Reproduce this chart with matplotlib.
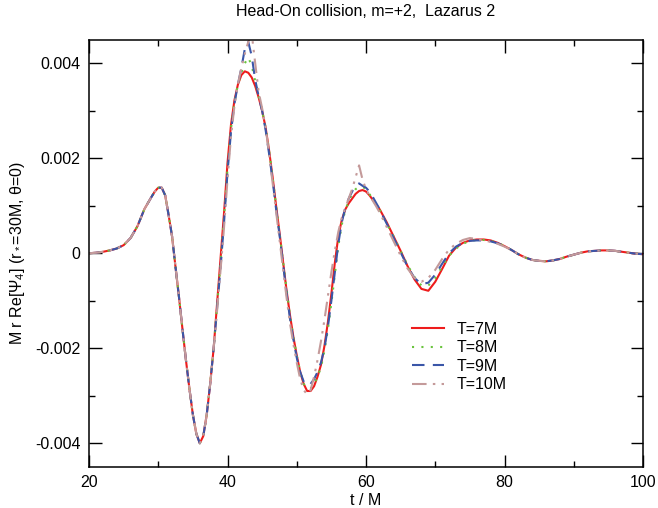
import matplotlib
matplotlib.use("Agg")
import matplotlib.pyplot as plt
from matplotlib.ticker import FixedLocator, MultipleLocator

plt.rcParams['font.family'] = ['Liberation Sans', 'DejaVu Sans']
plt.rcParams['mathtext.fontset'] = 'custom'
plt.rcParams['mathtext.rm'] = 'Liberation Sans'
plt.rcParams['mathtext.it'] = 'Liberation Sans:italic'

# time grid (t / M)
t = [20, 21, 22, 23, 24, 25, 26, 27, 28, 29,
     29.5, 30, 30.5, 31, 31.5, 32, 32.5, 33, 33.5, 34, 34.5, 35, 35.5, 36,
     36.5, 37, 37.5, 38, 38.5, 39, 39.5, 40, 40.5, 41, 41.5, 42, 42.5, 43,
     43.5, 44, 44.5, 45, 45.5, 46, 46.5, 47, 47.5, 48, 48.5, 49, 49.5, 50,
     50.5, 51, 51.5, 52, 52.5, 53, 53.5, 54, 54.5, 55, 55.5, 56, 56.5, 57,
     57.5, 58, 58.5, 59, 59.5, 60, 60.5, 61, 61.5, 62,
     63, 64, 65, 66, 67, 68, 69, 70, 71, 72, 73, 74, 75, 76, 77, 78, 79, 80,
     81, 82, 83, 84, 85, 86, 87, 88, 89, 90, 91, 92, 93, 94, 95, 96, 97, 98,
     99, 100]

# values in units of 1e-3
early = [0.00, 0.01, 0.03, 0.06, 0.10, 0.17, 0.32, 0.57, 0.93, 1.18,
         1.30, 1.38, 1.38, 1.22, 0.80, 0.35, -0.30, -0.93, -1.60, -2.25, -2.85, -3.40, -3.80, -4.00,
         -3.85, -3.40, -2.75, -2.00]

late_tail = [0.07, -0.02, -0.09, -0.14, -0.16, -0.17, -0.15, -0.12, -0.07, -0.03,
             0.01, 0.04, 0.05, 0.06, 0.06, 0.05, 0.03, 0.01, -0.01, -0.02]

psi_T7 = early + [
    -1.05, -0.10, 0.85, 1.90, 2.70, 3.22, 3.55, 3.75, 3.83, 3.80,
    3.70, 3.52, 3.28, 3.00, 2.65, 2.17, 1.62, 1.02, 0.45, -0.15, -0.75, -1.28, -1.75, -2.15,
    -2.50, -2.75, -2.90, -2.90, -2.80, -2.60, -2.35, -1.95, -1.45, -0.85, -0.20, 0.35, 0.70, 0.92,
    1.05, 1.15, 1.25, 1.31, 1.33, 1.30, 1.22, 1.12, 1.02, 0.92,
    0.65, 0.35, 0.05, -0.27, -0.55, -0.75, -0.79, -0.60, -0.33, -0.05, 0.12, 0.22, 0.27, 0.29,
    0.29, 0.27, 0.22, 0.15] + late_tail

psi_T8 = early + [
    -1.10, -0.20, 0.75, 1.78, 2.62, 3.18, 3.55, 3.80, 4.00, 4.12,
    3.95, 3.62, 3.30, 3.00, 2.65, 2.17, 1.62, 1.02, 0.45, -0.15, -0.72, -1.28, -1.75, -2.15,
    -2.50, -2.75, -2.85, -2.85, -2.75, -2.60, -2.40, -2.05, -1.60, -1.05, -0.45, 0.15, 0.60, 0.90,
    1.10, 1.25, 1.35, 1.40, 1.40, 1.35, 1.25, 1.12, 1.02, 0.90,
    0.62, 0.35, 0.05, -0.25, -0.50, -0.68, -0.68, -0.52, -0.28, -0.05, 0.10, 0.20, 0.26, 0.28,
    0.28, 0.26, 0.22, 0.15] + late_tail

psi_T9 = early + [
    -1.15, -0.30, 0.65, 1.70, 2.55, 3.15, 3.55, 3.90, 4.30, 4.45,
    4.15, 3.65, 3.30, 3.00, 2.60, 2.10, 1.55, 0.95, 0.40, -0.20, -0.80, -1.35, -1.80, -2.20,
    -2.50, -2.70, -2.78, -2.75, -2.65, -2.50, -2.30, -2.00, -1.55, -1.00, -0.40, 0.20, 0.65, 0.95,
    1.15, 1.30, 1.42, 1.47, 1.42, 1.38, 1.30, 1.18, 1.05, 0.92,
    0.62, 0.32, 0.02, -0.28, -0.52, -0.65, -0.62, -0.45, -0.22, 0.00, 0.14, 0.22, 0.26, 0.27,
    0.27, 0.25, 0.21, 0.15] + late_tail

psi_T10 = early + [
    -1.20, -0.35, 0.55, 1.55, 2.45, 3.10, 3.55, 3.90, 4.20, 4.45,
    4.62, 4.00, 3.40, 3.05, 2.65, 2.10, 1.50, 0.90, 0.30, -0.30, -0.90, -1.45, -1.90, -2.30,
    -2.65, -2.88, -2.97, -2.88, -2.60, -2.25, -1.85, -1.40, -0.90, -0.40, 0.05, 0.45, 0.75, 0.95,
    1.15, 1.35, 1.60, 1.85, 1.55, 1.35, 1.22, 1.10, 0.98, 0.85,
    0.55, 0.25, -0.05, -0.32, -0.52, -0.60, -0.52, -0.35, -0.12, 0.08, 0.20, 0.28, 0.32, 0.30,
    0.27, 0.24, 0.20, 0.14] + late_tail

labels = ["T=7M", "T=8M", "T=9M", "T=10M"]
yticks = [-0.004, -0.002, 0.0, 0.002, 0.004]
yticklabels = ["-0.004", "-0.002", "0", "0.002", "0.004"]
xticks = [20, 40, 60, 80, 100]

fig = plt.figure(figsize=(6.58, 5.08), dpi=100)
ax = fig.add_axes([89/658, 1 - 467/508, (643 - 89)/658, (467 - 39.5)/508])

scale = 1e-3
styles = [
    dict(color='#ee1c1c', lw=1.5, ls='-'),
    dict(color='#6ac43e', lw=1.5, ls=(0, (1, 3.5))),
    dict(color='#3a56a8', lw=1.5, ls=(0, (6, 4))),
    dict(color='#c49a9a', lw=1.5, ls=(0, (7, 3, 1.2, 3, 1.2, 3))),
]
for series, lab, st in zip([psi_T7, psi_T8, psi_T9, psi_T10], labels, styles):
    ax.plot(t, [v * scale for v in series], label=lab, **st)

ax.set_xlim(20, 100)
ax.set_ylim(-0.0045, 0.0045)
ax.xaxis.set_major_locator(FixedLocator(xticks))
ax.xaxis.set_minor_locator(MultipleLocator(10))
ax.yaxis.set_major_locator(FixedLocator(yticks))
ax.set_yticklabels(yticklabels)
ax.yaxis.set_minor_locator(MultipleLocator(0.001))
ax.tick_params(which='both', direction='in', top=True, right=True, labelsize=11.5, width=1.0)
ax.tick_params(which='major', length=9, pad=6)
ax.tick_params(which='minor', length=4.5)
for sp in ax.spines.values():
    sp.set_linewidth(1.1)

ax.set_xlabel("t / M", fontsize=11.5, labelpad=2)
ax.set_ylabel("M r Re[Ψ$_4$] (r$_*$=30M, θ=0)", fontsize=11.5, labelpad=6)
ax.set_title("Head-On collision, m=+2,  Lazarus 2", fontsize=11.5, pad=17)

ax.legend(loc='upper left', bbox_to_anchor=(0.572, 0.355), frameon=False, fontsize=11.5,
          handlelength=2.0, handletextpad=0.8, labelspacing=0.22, borderaxespad=0)

fig.savefig("out.png", dpi=100)
